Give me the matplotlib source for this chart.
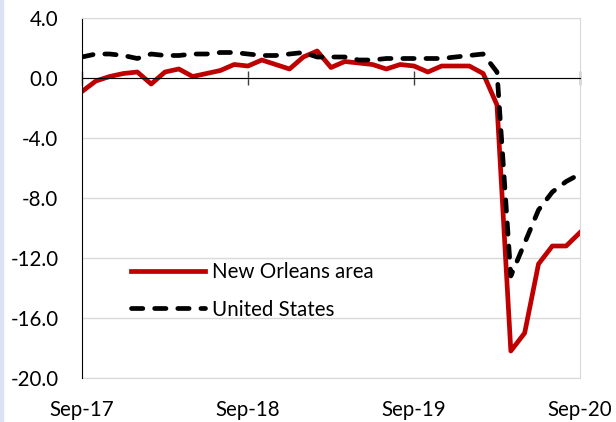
import matplotlib
matplotlib.use("Agg")
from matplotlib import pyplot as plt
from matplotlib.patches import Rectangle
import numpy

# year-over-year change in employment, Sep-17 .. Sep-20 (monthly)
month_labels = ["Sep-17", "Sep-18", "Sep-19", "Sep-20"]
new_orleans = [-0.9, -0.2, 0.1, 0.3, 0.4, -0.4, 0.4, 0.6, 0.1, 0.3,
               0.5, 0.9, 0.8, 1.2, 0.9, 0.6, 1.4, 1.8, 0.7, 1.1,
               1.0, 0.9, 0.6, 0.9, 0.8, 0.4, 0.8, 0.8, 0.8, 0.3,
               -1.8, -18.2, -17.0, -12.4, -11.2, -11.2, -10.3]
united_states = [1.4, 1.6, 1.6, 1.5, 1.3, 1.6, 1.5, 1.5, 1.6, 1.6,
                 1.7, 1.7, 1.6, 1.5, 1.5, 1.6, 1.7, 1.4, 1.4, 1.4,
                 1.2, 1.2, 1.3, 1.3, 1.3, 1.3, 1.3, 1.4, 1.5, 1.6,
                 0.4, -13.2, -11.0, -8.8, -7.6, -6.9, -6.4]

plt.rcParams['font.family'] = ['Lato', 'DejaVu Sans']
FS = 14.8

fig = plt.figure(figsize=(6.16, 4.22), dpi=100)
ax = fig.add_axes([82 / 616, 1 - 378 / 422, 498 / 616, 360 / 422])

months = numpy.arange(len(new_orleans))
ax.plot(months, new_orleans, color="#c00000", lw=3.4, label="New Orleans area")
ax.plot(months, united_states, color="black", lw=3.4, ls=(0, (2.4, 2.5)),
        dash_capstyle="round", label="United States")

ax.set_xlim(0, 36)
ax.set_ylim(-20, 4)
ticks = numpy.arange(-20, 4.1, 4)
ax.set_yticks(ticks)
ax.set_yticklabels(["%.1f" % v for v in ticks])
ax.yaxis.grid(True, color="#d9d9d9", lw=1)
ax.set_axisbelow(True)
ax.tick_params(axis="y", length=0, pad=17, labelsize=FS)

# zero line acts as the category axis, labels sit below the plot
ax.spines["bottom"].set_position(("data", 0))
ax.spines["bottom"].set_color("black")
ax.spines["left"].set_color("black")
for side in ("top", "right"):
    ax.spines[side].set_color("#d9d9d9")
ax.set_xticks([0, 12, 24, 36])
ax.tick_params(axis="x", direction="inout", length=10, width=1,
               color="#404040", labelbottom=False)

sec = ax.secondary_xaxis(0)
sec.set_xticks([0, 12, 24, 36])
sec.set_xticklabels(month_labels)
sec.tick_params(length=0, pad=16, labelsize=FS)
sec.spines["bottom"].set_color("#d9d9d9")

ax.legend(loc="upper left", bbox_to_anchor=(0.098, 0.322), frameon=False,
          fontsize=FS, handlelength=3.6, handletextpad=0.35,
          labelspacing=0.85, borderpad=0, borderaxespad=0)

fig.patches.append(Rectangle((0, 0), 3 / 616, 1, transform=fig.transFigure,
                             color="#dae3f3", zorder=0))

fig.savefig("out.png", dpi=100)
